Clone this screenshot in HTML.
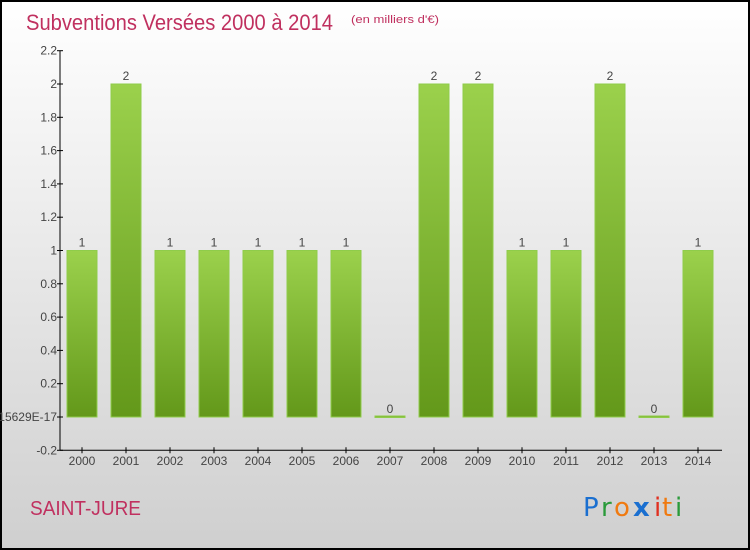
<!DOCTYPE html>
<html><head><meta charset="utf-8"><style>
body{margin:0}
#c{width:750px;height:550px;position:relative;overflow:hidden;font-family:"Liberation Sans",sans-serif}
</style></head><body>
<div id="c">
<svg width="750" height="550" xmlns="http://www.w3.org/2000/svg" id="svg">
<defs>
<linearGradient id="bg" x1="0" y1="0" x2="0" y2="1"><stop offset="0" stop-color="#ffffff"/><stop offset="1" stop-color="#cfcfcf"/></linearGradient>
<linearGradient id="bar" x1="0" y1="0" x2="0" y2="1"><stop offset="0" stop-color="#9bd14c"/><stop offset="1" stop-color="#63981a"/></linearGradient>
</defs>
<rect x="1" y="1" width="748" height="548" fill="url(#bg)" stroke="#000" stroke-width="2"/>
<text x="26" y="30" font-size="22" fill="#c0305f" textLength="307" lengthAdjust="spacingAndGlyphs">Subventions Versées 2000 à 2014</text>
<text x="351" y="23" font-size="11" fill="#c0305f" textLength="88" lengthAdjust="spacingAndGlyphs">(en milliers d'€)</text>
<text x="30" y="515" font-size="20" fill="#c0305f" textLength="111" lengthAdjust="spacingAndGlyphs">SAINT-JURE</text>
<g font-size="26" font-family="DejaVu Sans, sans-serif">
<text x="583" y="516" fill="#1a6fd0">P</text><text x="601" y="516" fill="#2a9a3a">r</text><text x="614" y="516" fill="#f07a10">o</text><text x="633" y="516" fill="#1a6fd0" font-weight="bold">x</text><text x="654" y="516" fill="#e03020">i</text><text x="662" y="516" fill="#f07a10">t</text><text x="675" y="516" fill="#2a9a3a">i</text>
</g>
<g id="plot"></g>
</svg>
</div>
<script>
const years=["2000","2001","2002","2003","2004","2005","2006","2007","2008","2009","2010","2011","2012","2013","2014"];
const values=[1,2,1,1,1,1,1,0,2,2,1,1,2,0,1];
const tickValues=[-0.2,0,0.2,0.4,0.6,0.8,1,1.2,1.4,1.6,1.8,2,2.2];
const tickLabels=["-0.2","-1.15629E-17","0.2","0.4","0.6","0.8","1","1.2","1.4","1.6","1.8","2","2.2"];
const NS="http://www.w3.org/2000/svg";
const g=document.getElementById('plot');
function y(v){return 417-v*166.5;}
function x(i){return 82+i*44;}
function mk(t,a,txt){const e=document.createElementNS(NS,t);for(const k in a)e.setAttribute(k,a[k]);if(txt!==undefined)e.textContent=txt;g.appendChild(e);return e;}
let ax=mk('line',{x1:60,y1:y(2.2),x2:60,y2:y(-0.2),stroke:'#000','stroke-width':1});


let bx=mk('line',{x1:60,y1:y(-0.2),x2:722,y2:y(-0.2),stroke:'#000','stroke-width':1});


tickValues.forEach((v,i)=>{
  const tk=mk('line',{x1:57,y1:y(v),x2:63,y2:y(v),stroke:'#000'});
  
  
  const t=mk('text',{x:57,y:y(v)+4,'font-size':12,'text-anchor':'end',fill:'#444'},tickLabels[i]);
  
  
});
years.forEach((yr,i)=>{
  const cx=x(i),v=values[i];
  const top=y(v),h=Math.max(y(0)-top,1.5);
  const r=mk('rect',{x:cx-15,y:v>0?top:y(0)-1,width:30,height:h,fill:'url(#bar)',stroke:'#8fcc4a','stroke-width':1});
  
  
  const lb=mk('text',{x:cx,y:(v>0?top:y(0))-4,'font-size':12,'text-anchor':'middle',fill:'#444'},String(v));
  
  
  const tk=mk('line',{x1:cx,y1:y(-0.2)-3,x2:cx,y2:y(-0.2)+3,stroke:'#000'});
  
  
  const xl=mk('text',{x:cx,y:465,'font-size':12,'text-anchor':'middle',fill:'#444'},yr);
  
  
});
</script>
</body></html>
